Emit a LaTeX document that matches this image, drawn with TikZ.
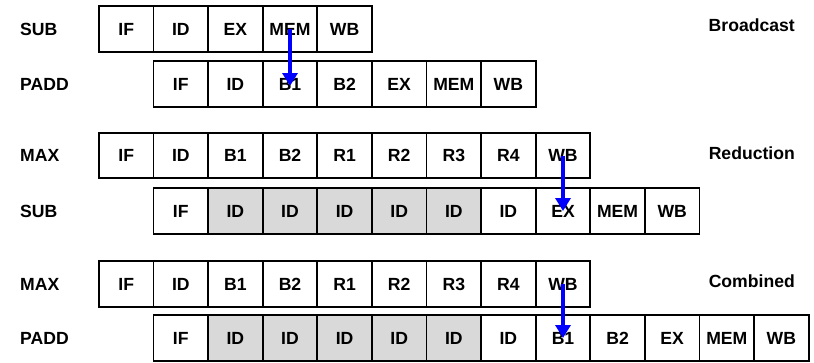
\documentclass[tikz,border=0pt]{standalone}
\usepackage{fontspec}
\setmainfont{Liberation Sans}
\usetikzlibrary{arrows.meta}
\definecolor{stallgray}{HTML}{D9D9D9}
\definecolor{fwdblue}{RGB}{0,0,255}
\begin{document}
\begin{tikzpicture}[x=1pt,y=-1pt,
  txt/.style={font=\fontsize{17.6}{20}\selectfont\bfseries, inner sep=0pt},
  stage/.style={txt, draw=black, line width=1.8pt, minimum width=54.6pt,
    minimum height=45.5pt, anchor=west},
  rowlabel/.style={txt, anchor=west},
  caselabel/.style={txt, anchor=east},
  fwd/.style={draw=fwdblue, line width=4pt,
    -{Triangle[length=13pt,width=15pt]}}
]
\useasboundingbox (0,0) rectangle (814,362);

% Broadcast: SUB feeds PADD
\node[rowlabel] (la) at (20,29) {SUB};
\foreach \t [count=\i] in {IF,ID,EX,MEM,WB}
  \node[stage] (a\i) at ({98+(\i-1)*54.6},29) {\t};
\node[rowlabel] (lb) at (20,84) {PADD};
\foreach \t [count=\i] in {IF,ID,B1,B2,EX,MEM,WB}
  \node[stage] (b\i) at ({152.6+(\i-1)*54.6},84) {\t};
\node[caselabel] (ra) at (795,25) {Broadcast};

% Reduction: MAX feeds SUB, SUB stalls in ID
\node[rowlabel] (lc) at (20,155.5) {MAX};
\foreach \t [count=\i] in {IF,ID,B1,B2,R1,R2,R3,R4,WB}
  \node[stage] (c\i) at ({98+(\i-1)*54.6},155.5) {\t};
\node[rowlabel] (ld) at (20,211) {SUB};
\foreach \t/\f [count=\i] in {IF/white,ID/stallgray,ID/stallgray,ID/stallgray,
    ID/stallgray,ID/stallgray,ID/white,EX/white,MEM/white,WB/white}
  \node[stage, fill=\f] (d\i) at ({152.6+(\i-1)*54.6},211) {\t};
\node[caselabel] (rb) at (795,153) {Reduction};

% Combined: MAX feeds PADD
\node[rowlabel] (le) at (20,284) {MAX};
\foreach \t [count=\i] in {IF,ID,B1,B2,R1,R2,R3,R4,WB}
  \node[stage] (e\i) at ({98+(\i-1)*54.6},284) {\t};
\node[rowlabel] (lf) at (20,338) {PADD};
\foreach \t/\f [count=\i] in {IF/white,ID/stallgray,ID/stallgray,ID/stallgray,
    ID/stallgray,ID/stallgray,ID/white,B1/white,B2/white,EX/white,MEM/white,WB/white}
  \node[stage, fill=\f] (f\i) at ({152.6+(\i-1)*54.6},338) {\t};
\node[caselabel] (rc) at (795,281) {Combined};

% forwarding paths
\draw[fwd] (a4.center) -- ([yshift=-2pt]b3.center);
\draw[fwd] (c9.center) -- (d8.center);
\draw[fwd] (e9.center) -- (f8.center);
\end{tikzpicture}
\end{document}
